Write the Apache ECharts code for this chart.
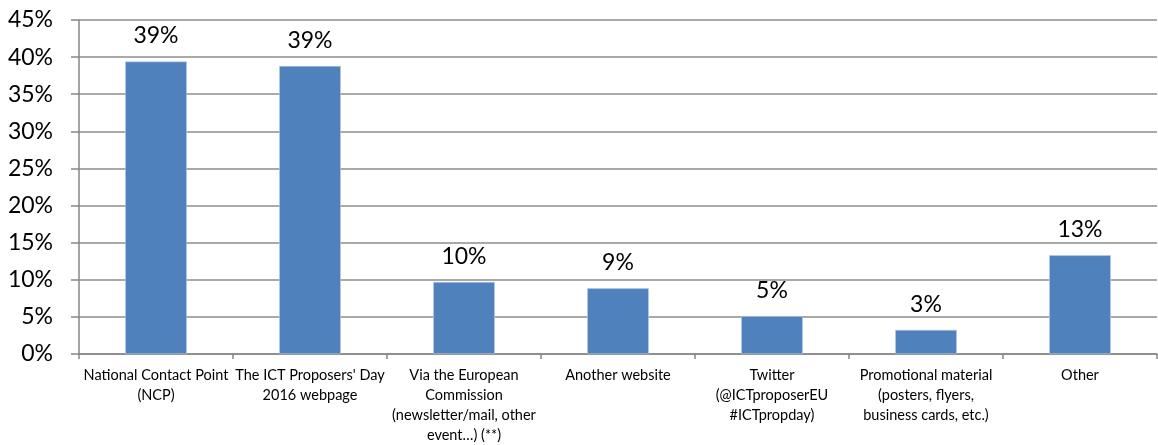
<!DOCTYPE html>
<html>
<head>
<meta charset="utf-8">
<script src="https://cdn.jsdelivr.net/npm/echarts@6/dist/echarts.min.js"></script>
<style>
html,body{margin:0;padding:0;background:#fff;}
#chart{width:1158px;height:445px;}
</style>
</head>
<body>
<div id="chart"></div>
<script>
var categories = [
  "National Contact Point\n(NCP)",
  "The ICT Proposers' Day\n2016 webpage",
  "Via the European\nCommission\n(newsletter/mail, other\nevent\u2026) (**)",
  "Another website",
  "Twitter\n(@ICTproposerEU\n#ICTpropday)",
  "Promotional material\n(posters, flyers,\nbusiness cards, etc.)",
  "Other"
];
var values = [39.4, 38.8, 9.7, 8.85, 5.1, 3.25, 13.3];

var chart = echarts.init(document.getElementById('chart'));
chart.setOption({
  animation: false,
  grid: {left: 79, right: 1, top: 20, bottom: 88},
  xAxis: {
    type: 'category',
    data: categories,
    axisLine: {lineStyle: {color: '#868686', width: 1.5}},
    axisTick: {show: true, length: 5, lineStyle: {color: '#868686', width: 1.5}},
    axisLabel: {
      interval: 0, color: '#000', fontFamily: 'Lato', fontSize: 14.5,
      lineHeight: 20, margin: 11
    }
  },
  yAxis: {
    type: 'value', min: 0, max: 45, interval: 5,
    axisLine: {show: true, lineStyle: {color: '#868686', width: 1.5}},
    axisTick: {show: true, length: 8, lineStyle: {color: '#868686', width: 1.5}},
    splitLine: {lineStyle: {color: '#8c8c8c', width: 1.5}},
    axisLabel: {
      color: '#000', fontFamily: 'Lato', fontSize: 23, margin: 26,
      formatter: function (v) { return v + '%'; }
    }
  },
  series: [{
    type: 'bar',
    data: values,
    barWidth: '40%',
    itemStyle: {color: '#4F81BD', borderColor: '#b9cde5', borderWidth: 0.6},
    label: {
      show: true, position: 'top', distance: 14,
      color: '#000', fontFamily: 'Lato', fontSize: 23,
      formatter: function (p) { return Math.round(p.value) + '%'; }
    }
  }]
});
</script>
</body>
</html>
